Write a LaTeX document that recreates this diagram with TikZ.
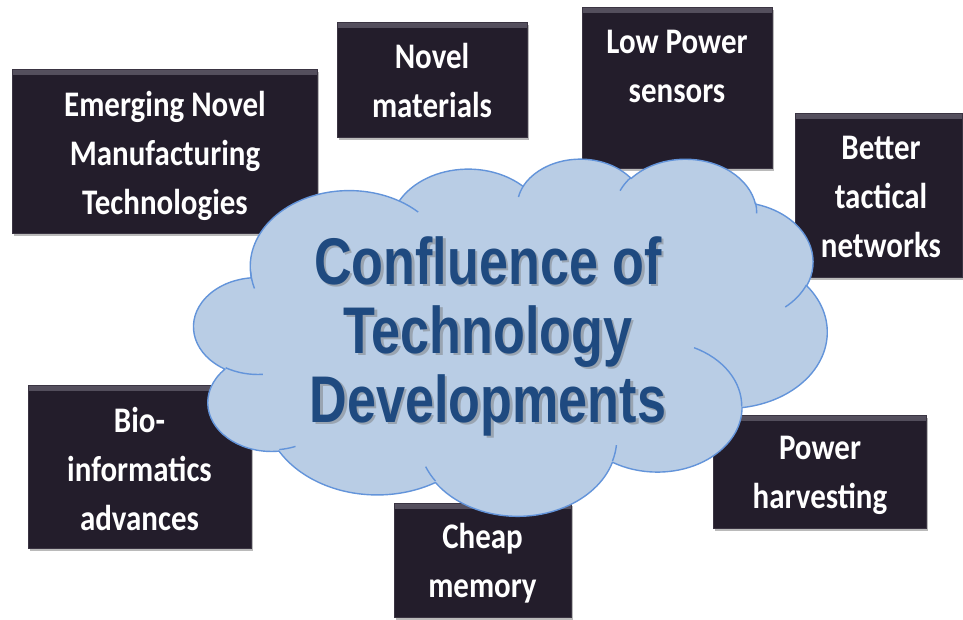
\documentclass[tikz,border=0pt]{standalone}
\usepackage{fontspec}
\usepackage{tikz}
\usetikzlibrary{shadows}
\newfontfamily\cardfont[FakeStretch=0.86]{Carlito}
\newfontfamily\corefont[FakeStretch=0.79]{Liberation Sans}
\definecolor{cardfill}{HTML}{231D2B}
\definecolor{cardtop}{HTML}{55505E}
\definecolor{cardedge}{HTML}{3A3442}
\definecolor{cloudfill}{HTML}{B9CDE5}
\definecolor{cloudedge}{HTML}{6394DA}
\definecolor{coreink}{HTML}{1F4A80}

\begin{document}
\begin{tikzpicture}[x=1pt,y=1pt,
  declare function={
    vis(\a,\rx,\ry)=atan2(\rx*sin(\a),\ry*cos(\a));
    visend(\a,\s,\rx,\ry)=vis(\a,\rx,\ry)+\s-180+mod(vis(\a+\s,\rx,\ry)-vis(\a,\rx,\ry)-\s+1260,360);
  },
  puff/.style n args={4}{x radius=#1,y radius=#2,
    start angle={vis(#3,#1,#2)},end angle={visend(#3,#4,#1,#2)}},
  card/.style={rectangle,fill=cardfill,draw=cardedge,line width=0.8pt,inner sep=0pt,
    drop shadow={shadow xshift=2pt,shadow yshift=-3pt,fill=black!60,opacity=.45},
    path picture={\fill[top color=cardtop,bottom color=cardfill]
      (path picture bounding box.north west) rectangle ([yshift=-5pt]path picture bounding box.north east);}},
  cardtext/.style={text=white,font=\cardfont\bfseries\fontsize{36}{49}\selectfont,align=center,inner sep=0pt},
  cloudbody/.style={fill=cloudfill,draw=cloudedge,line width=1.4pt,line join=round},
  cloudcrease/.style={draw=cloudedge,line width=1.4pt},
  coretext/.style={text=coreink,font=\corefont\bfseries\fontsize{66}{69}\selectfont,align=center,inner sep=0pt}]
\fill[white] (0,0) rectangle (963,-619);
\useasboundingbox (0,0) rectangle (963,-619);

% dark cards round the cloud
\node[card,minimum width=305,minimum height=164] (mfg) at (164.5,-151) {};
\node[cardtext] (mfgtext) at (165,-156) {Emerging Novel\\Manufacturing\\Technologies};
\node[card,minimum width=190,minimum height=115] (mat) at (432,-79.5) {};
\node[cardtext] (mattext) at (432,-80) {Novel\\materials};
\node[card,minimum width=190,minimum height=161] (lps) at (677,-87.5) {};
\node[cardtext] (lpstext) at (677,-66) {Low Power\\sensors};
\node[card,minimum width=167,minimum height=164] (net) at (878.5,-195) {};
\node[cardtext] (nettext) at (881,-197) {Better\\tactical\\networks};
\node[card,minimum width=223,minimum height=163] (bio) at (139.5,-466.5) {};
\node[cardtext] (biotext) at (139.5,-469) {Bio-\\informatics\\advances};
\node[card,minimum width=177,minimum height=114] (mem) at (482.5,-560) {};
\node[cardtext] (memtext) at (482.5,-563.5) {Cheap\\memory};
\node[card,minimum width=213,minimum height=113] (pwr) at (819.5,-471.5) {};
\node[cardtext] (pwrtext) at (820,-475.5) {Power\\harvesting};

% the cloud, puff by puff
\begin{scope}[shift={(194,-158)},x=0.146528pt,y=-0.0826389pt]
\filldraw[cloudbody] (390,1437)
  arc[puff={675.3}{919.0}{-190.4875}{123.7805}]
  arc[puff={533.3}{726.7}{-144.1024}{89.9452}]
  arc[puff={436.5}{594.5}{-145.8079}{99.7230}]
  arc[puff={485.7}{659.5}{-130.9861}{117.2417}]
  arc[puff={533.3}{727.3}{-78.7089}{109.0269}]
  arc[puff={677.5}{922.0}{-46.2673}{130.2690}]
  arc[puff={578.5}{786.7}{0.6250}{114.0333}]
  arc[puff={675.2}{921.5}{22.4516}{115.1726}]
  arc[puff={772.0}{1054.3}{66.2426}{75.7110}]
  arc[puff={436.0}{591.8}{-274.9421}{146.7356}]
  arc[puff={434.5}{594.5}{-246.8285}{152.5189}]
  -- cycle;
\draw[cloudcrease]
  (469.3,2617.7) arc[puff={434.5}{594.5}{86.7420}{26.4295}]
  (692.8,3489.9) arc[puff={436.0}{591.8}{73.6105}{11.4475}]
  (1647.8,3909.0) arc[puff={675.2}{921.5}{137.6242}{14.0811}]
  (2882.7,3475.1) arc[puff={675.2}{921.5}{6.4533}{15.9984}]
  (3412.9,2295.4) arc[puff={578.5}{786.7}{-70.2924}{70.9174}]
  (4179.8,1535.4) arc[puff={533.3}{727.3}{30.3180}{27.7515}]
  (3832.4,542.6) arc[puff={485.7}{659.5}{-13.7443}{14.8589}]
  (2907.8,395.2) arc[puff={485.7}{659.5}{-149.1815}{18.1954}]
  (2214.1,472.0) arc[puff={436.5}{594.5}{-163.4943}{17.6864}]
  (1400.0,519.2) arc[puff={675.3}{919.0}{-66.7070}{12.3194}]
  (412.7,1578.9) arc[puff={675.3}{919.0}{158.2208}{17.2865}];
\end{scope}

% title in the cloud, with its soft shadow
\node[coretext,text=black!55,opacity=.45] (coreshade) at (490.5,-338.5) {Confluence of\\Technology\\Developments};
\node[coretext] (core) at (488,-336) {Confluence of\\Technology\\Developments};
\end{tikzpicture}
\end{document}
